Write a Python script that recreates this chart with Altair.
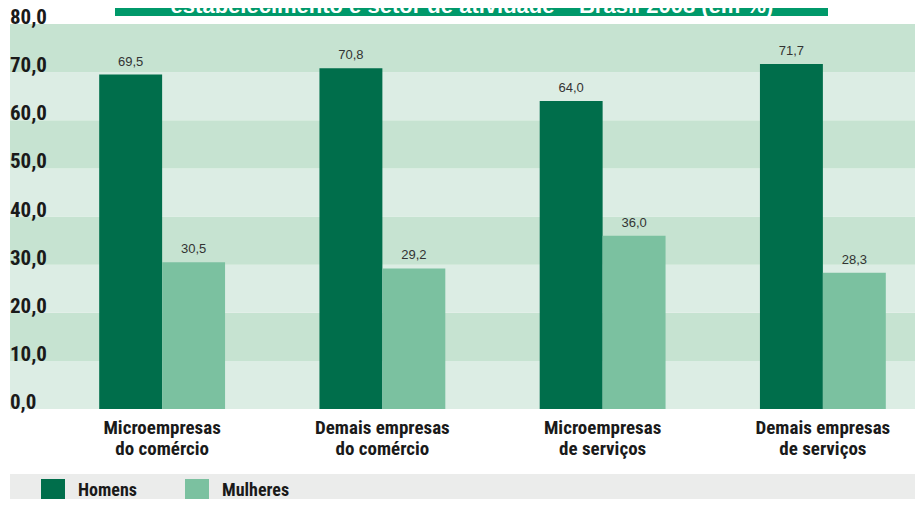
import altair as alt
import pandas as pd

categories = ["Microempresas do comércio", "Demais empresas do comércio",
              "Microempresas de serviços", "Demais empresas de serviços"]
cat_labels = ["Microempresas\ndo comércio", "Demais empresas\ndo comércio",
              "Microempresas\nde serviços", "Demais empresas\nde serviços"]
series = ["Homens", "Mulheres"]
homens = [69.5, 70.8, 64.0, 71.7]
mulheres = [30.5, 29.2, 36.0, 28.3]
y_ticks = [0, 10, 20, 30, 40, 50, 60, 70, 80]
title_text = "estabelecimento e setor de atividade – Brasil 2008 (em %)"

W, H = 905, 385
COND = "Roboto Condensed, Roboto, sans-serif"
DARK, LIGHT = "#006e4b", "#7bc1a0"

def fmt(v):
    return f"{v:.1f}".replace(".", ",")

rows = []
for c, h, m in zip(categories, homens, mulheres):
    rows.append({"cat": c, "sexo": "Homens", "valor": h, "txt": fmt(h)})
    rows.append({"cat": c, "sexo": "Mulheres", "valor": m, "txt": fmt(m)})
df = pd.DataFrame(rows)

bands = pd.DataFrame([
    {"lo": y_ticks[i], "hi": y_ticks[i + 1],
     "col": "#dcede4" if i % 2 == 0 else "#c6e3d1"}
    for i in range(len(y_ticks) - 1)
])
ticks = pd.DataFrame({"v": y_ticks, "lab": [fmt(v) for v in y_ticks]})
cats = pd.DataFrame({"cat": categories, "lab": cat_labels})

xscale = alt.Scale(domain=categories, range=[42, 923], paddingInner=0, paddingOuter=0)
yscale = alt.Scale(domain=[0, 80], nice=False, zero=True)
X = alt.X("cat:N", scale=xscale, axis=None, sort=categories)
XO = alt.XOffset("sexo:N", scale=alt.Scale(domain=series, paddingInner=0, paddingOuter=0.75), sort=series)

band_layer = alt.Chart(bands).mark_rect().encode(
    x=alt.value(0), x2=alt.value(W),
    y=alt.Y("lo:Q", scale=yscale, axis=None), y2="hi:Q",
    fill=alt.Fill("col:N", scale=None),
)

legend_bg = alt.Chart(pd.DataFrame({"a": [0]})).mark_rect(fill="#ebeceb").encode(
    x=alt.value(0), x2=alt.value(W), y=alt.value(450), y2=alt.value(480)
)

bars = alt.Chart(df).mark_bar().encode(
    x=X, xOffset=XO,
    y=alt.Y("valor:Q", scale=yscale, axis=None),
    fill=alt.Fill("sexo:N", scale=alt.Scale(domain=series, range=[DARK, LIGHT]),
                  legend=alt.Legend(orient="none", legendX=31, legendY=455,
                                    direction="horizontal", title=None,
                                    symbolType="square", symbolSize=576,
                                    symbolStrokeWidth=0, symbolOpacity=1,
                                    labelFont=COND, labelFontSize=18,
                                    labelFontWeight="bold", labelColor="#1a1a1a",
                                    labelOffset=13, columnPadding=47, padding=0,
                                    labelLimit=200)),
)

values = alt.Chart(df).mark_text(font="Liberation Sans, Arial, sans-serif", fontSize=13,
                                 color="#333333", baseline="alphabetic", dy=-9).encode(
    x=X, xOffset=XO, y=alt.Y("valor:Q", scale=yscale, axis=None), text="txt:N"
)

ylabels = alt.Chart(ticks).mark_text(font=COND, fontSize=21, fontWeight="bold",
                                     color="#1a1a1a", align="left",
                                     baseline="alphabetic").encode(
    x=alt.value(0), y=alt.Y("v:Q", scale=yscale, axis=None), text="lab:N"
)

catlabels = alt.Chart(cats).mark_text(font=COND, fontSize=19, fontWeight="bold",
                                      color="#1a1a1a", align="center",
                                      baseline="alphabetic", lineBreak="\n",
                                      lineHeight=21).encode(
    x=X, y=alt.value(410), text="lab:N"
)

title_box = alt.Chart(pd.DataFrame({"a": [0]})).mark_rect(fill="#00996a").encode(
    x=alt.value(105), x2=alt.value(818), y=alt.value(-16), y2=alt.value(-8)
)
title = alt.Chart(pd.DataFrame({"t": [title_text]})).mark_text(
    font="Liberation Sans, Arial, sans-serif", fontSize=22, fontWeight="bold",
    color="white", align="center", baseline="alphabetic").encode(
    x=alt.value(462), y=alt.value(-11), text="t:N"
)

chart = alt.layer(band_layer, legend_bg, bars, values, ylabels, catlabels,
                  title_box, title).properties(
    width=W, height=H,
    autosize=alt.AutoSizeParams(type="none"),
    padding={"left": 2, "top": 16, "right": 0, "bottom": 90},
    background="white",
).configure_view(stroke=None)

chart.save("out.html", embed_options={"renderer": "svg", "actions": False})
